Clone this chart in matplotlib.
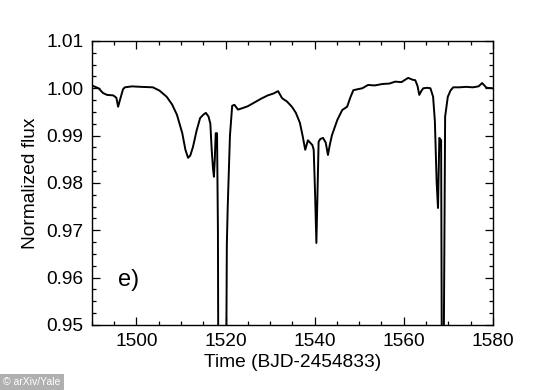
import numpy as np
import matplotlib
matplotlib.use('Agg')
from matplotlib import pyplot as plt
from matplotlib.ticker import MultipleLocator

plt.rcParams['font.family'] = ['Liberation Sans', 'DejaVu Sans']

# light curve (time, normalized flux)
time = [1490.0, 1491.5, 1492.5, 1493.4, 1494.8, 1495.5, 1495.9, 1496.3, 1497.0, 1497.4,
        1499.0, 1501.0, 1503.7, 1505.2, 1506.8, 1508.0, 1509.1, 1510.3, 1511.0, 1511.6,
        1512.1, 1512.7, 1513.5, 1514.3, 1515.0, 1515.6, 1516.2, 1516.6, 1516.9, 1517.2,
        1517.4, 1517.6, 1517.8, 1518.1, 1518.3, 1518.5, 1519.3, 1520.1, 1520.3, 1520.5,
        1521.0, 1521.5, 1522.0, 1522.8, 1523.5, 1525.0, 1526.5, 1528.0, 1529.5, 1530.8,
        1531.8, 1532.7, 1533.8, 1534.9, 1535.8, 1536.7, 1537.3, 1537.9, 1538.5, 1539.0,
        1539.5, 1539.8, 1540.1, 1540.4, 1540.7, 1540.9, 1541.3, 1541.9, 1542.5, 1543.0,
        1543.4, 1543.9, 1545.1, 1546.2, 1547.3, 1548.0, 1548.7, 1550.7, 1552.0, 1553.5,
        1555.2, 1556.8, 1558.1, 1559.5, 1561.0, 1562.0, 1562.6, 1563.1, 1563.5, 1564.0,
        1564.4, 1565.3, 1566.0, 1566.6, 1567.0, 1567.4, 1567.7, 1568.0, 1568.4, 1568.6,
        1568.75, 1568.9, 1569.3, 1569.9, 1570.5, 1571.1, 1572.5, 1574.0, 1575.5, 1576.8,
        1577.6, 1578.6, 1580.0]
flux = [1.0006, 1.0000, 0.9990, 0.9986, 0.9985, 0.9980, 0.9961, 0.9975, 0.9998, 1.0002,
        1.0004, 1.0003, 1.0002, 0.9995, 0.9982, 0.9966, 0.9944, 0.9905, 0.9870, 0.9853,
        0.9858, 0.9876, 0.9910, 0.9937, 0.9944, 0.9948, 0.9940, 0.9925, 0.9870, 0.9830,
        0.9813, 0.9850, 0.9905, 0.9905, 0.9700, 0.9000, 0.8500, 0.9300, 0.9670, 0.9750,
        0.9900, 0.9963, 0.9965, 0.9955, 0.9957, 0.9962, 0.9970, 0.9978, 0.9985, 0.9989,
        0.9994, 0.9979, 0.9972, 0.9961, 0.9948, 0.9927, 0.9900, 0.9870, 0.9890, 0.9885,
        0.9880, 0.9870, 0.9780, 0.9673, 0.9800, 0.9887, 0.9893, 0.9895, 0.9885, 0.9859,
        0.9880, 0.9901, 0.9933, 0.9954, 0.9961, 0.9980, 0.9996, 1.0000, 1.0007, 1.0006,
        1.0009, 1.0010, 1.0014, 1.0013, 1.0022, 1.0018, 1.0017, 1.0005, 0.9986, 0.9995,
        1.0000, 1.0001, 1.0000, 0.9982, 0.9930, 0.9800, 0.9747, 0.9895, 0.9890, 0.9300,
        0.8000, 0.9300, 0.9940, 0.9982, 0.9995, 1.0002, 1.0002, 1.0003, 1.0002, 1.0004,
        1.0011, 1.0001, 1.0000]

fig = plt.figure(figsize=(5.5, 3.9), dpi=100)
ax = fig.add_axes([0.167, 0.167, 0.729, 0.728])
ax.plot(time, flux, color='black', lw=1.4)

ax.set_xlim(1490, 1580)
ax.set_ylim(0.95, 1.01)
ax.xaxis.set_major_locator(MultipleLocator(20))
ax.xaxis.set_minor_locator(MultipleLocator(5))
ax.yaxis.set_major_locator(MultipleLocator(0.01))
ax.yaxis.set_minor_locator(MultipleLocator(0.0025))
ax.yaxis.set_major_formatter(matplotlib.ticker.FormatStrFormatter('%.2f'))
ax.tick_params(which='both', direction='in', top=True, right=True, labelsize=13.8, width=0.9)
ax.tick_params(which='major', length=6, pad=6)
ax.tick_params(which='minor', length=3)
for s in ax.spines.values():
    s.set_linewidth(1.0)

ax.set_xlabel('Time (BJD-2454833)', fontsize=13.8, labelpad=3)
ax.set_ylabel('Normalized flux', fontsize=13.8, labelpad=5)
ax.text(1498.2, 0.9595, 'e)', fontsize=17, ha='center', va='center')

fig.text(0.005, 0.012, '© arXiv/Yale', fontsize=7.5, color='white',
         bbox=dict(facecolor='#b0b0b0', edgecolor='none', pad=2.5))

fig.savefig('out.png', dpi=100)
